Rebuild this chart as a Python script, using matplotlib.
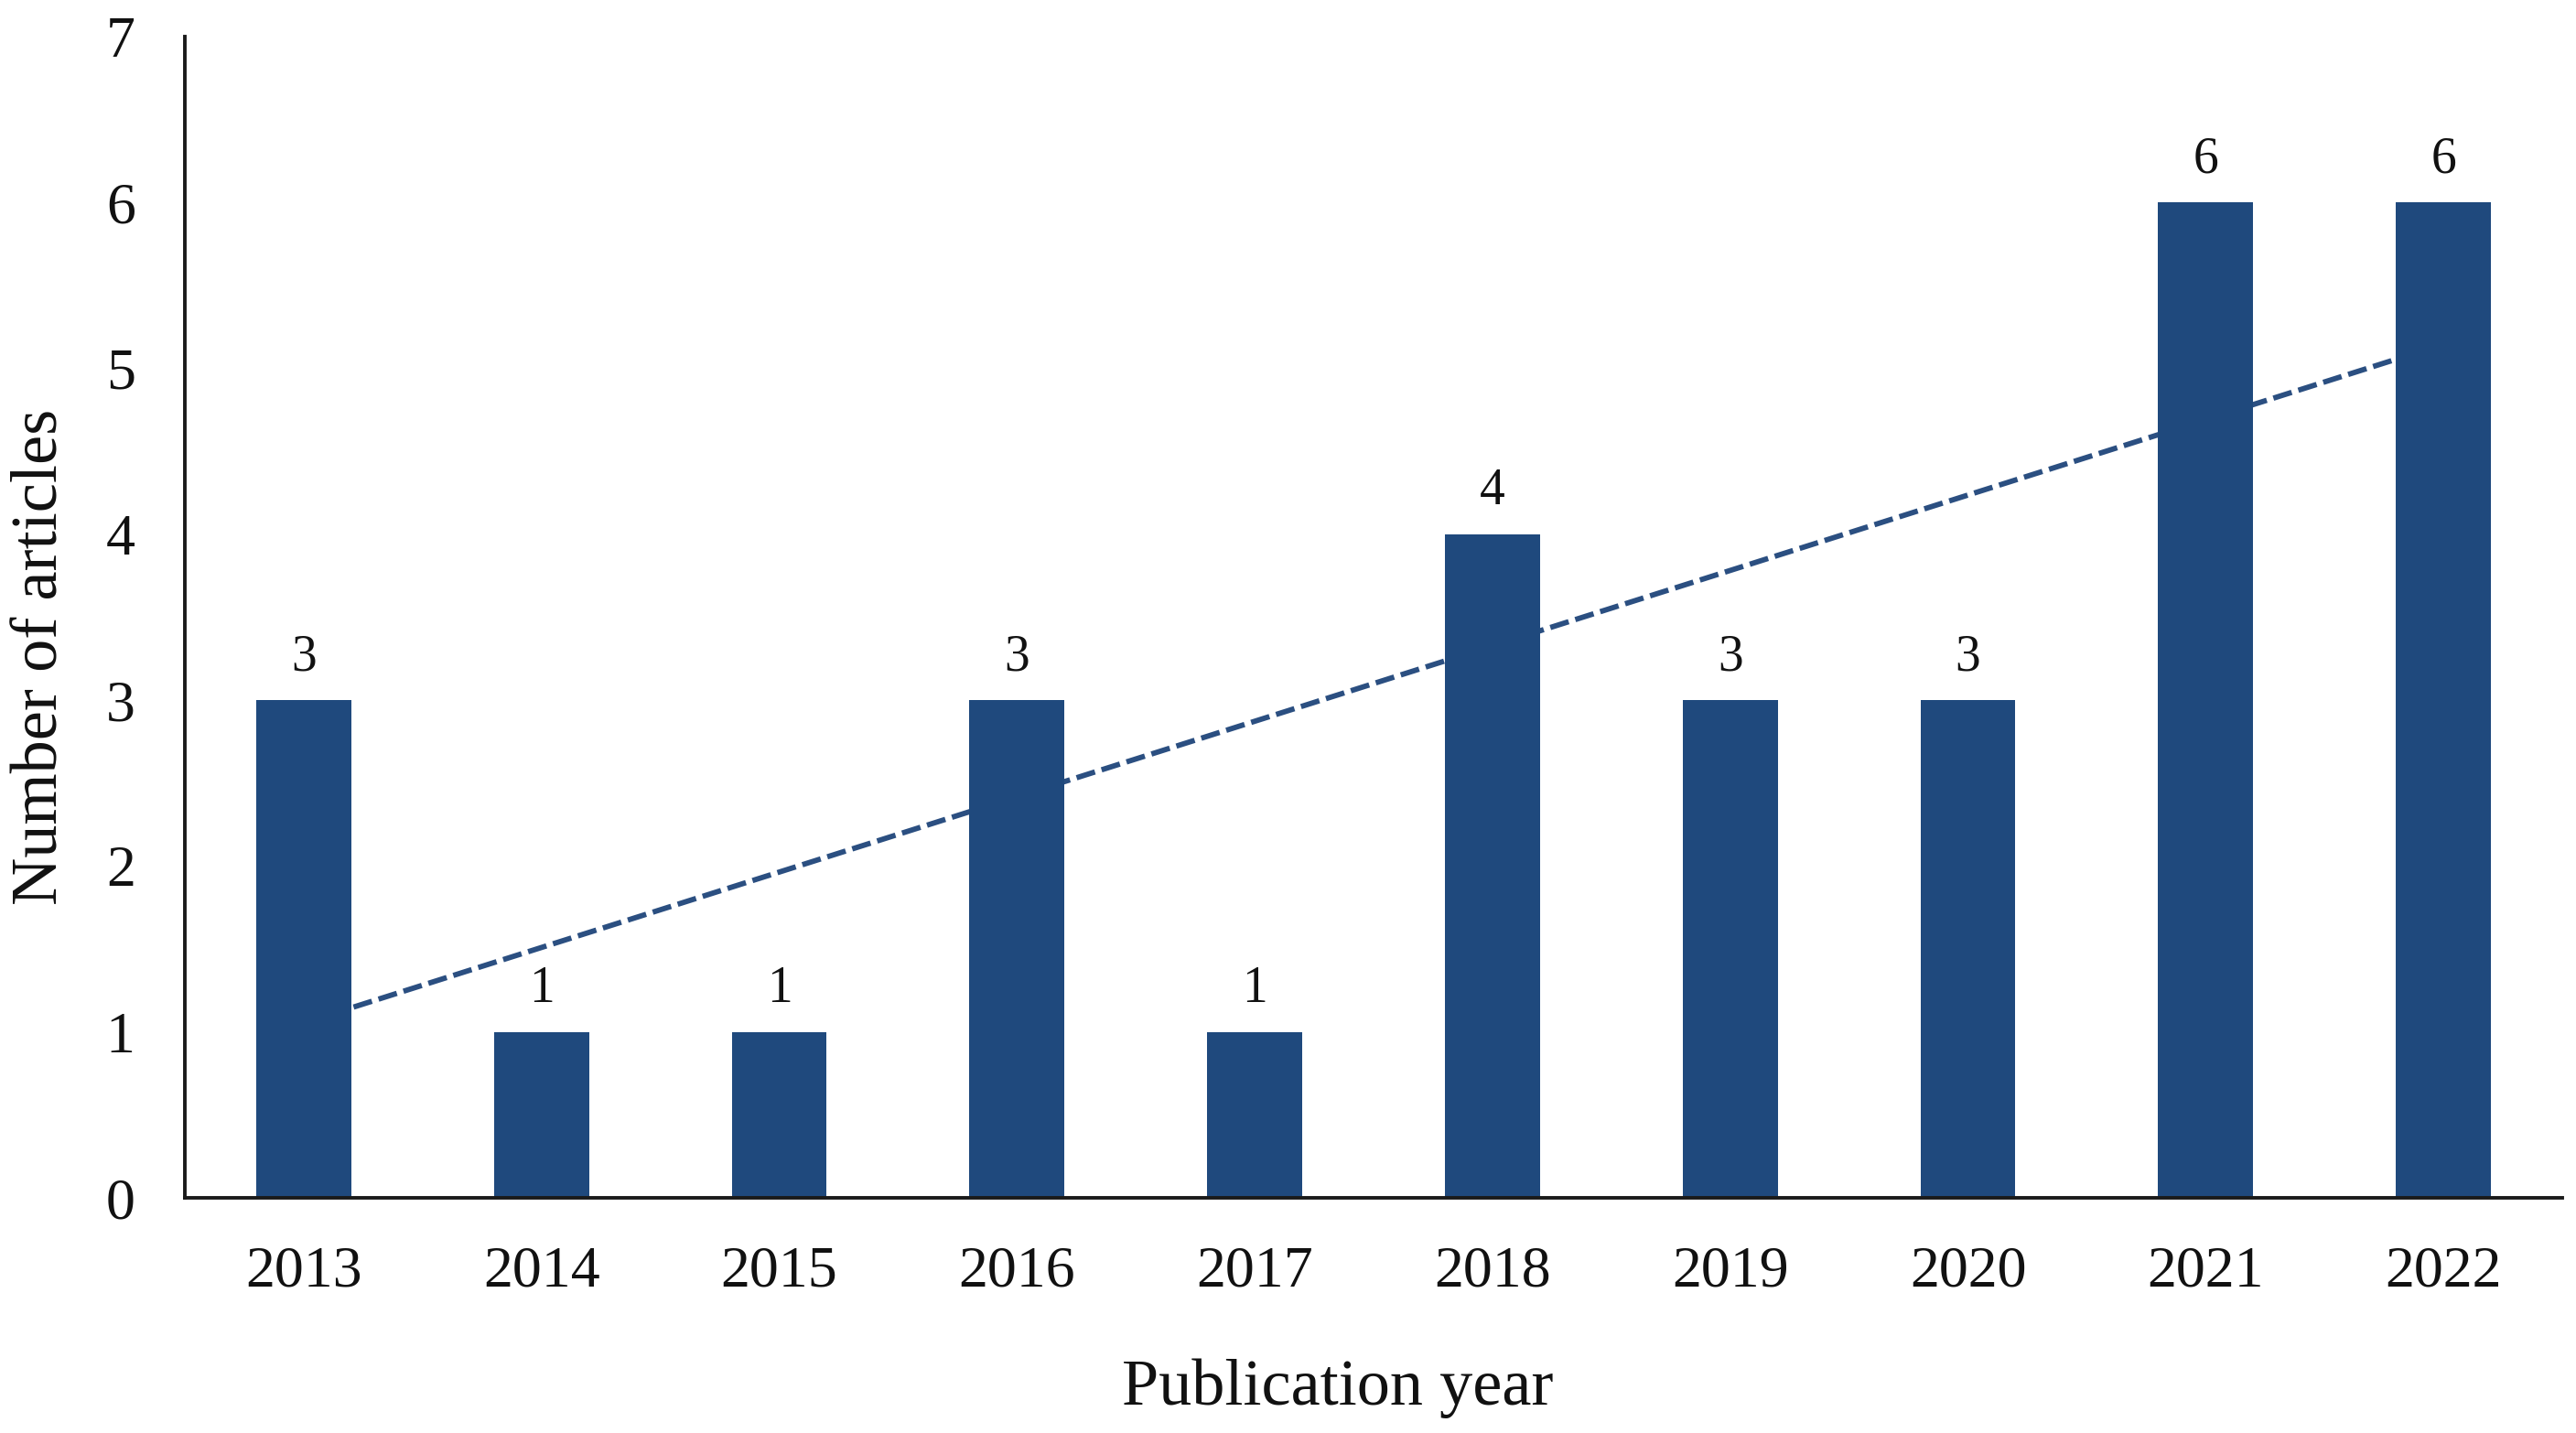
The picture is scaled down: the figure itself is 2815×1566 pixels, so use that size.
import numpy as np
import matplotlib
matplotlib.use("Agg")
import matplotlib.pyplot as plt

years = ["2013", "2014", "2015", "2016", "2017", "2018", "2019", "2020", "2021", "2022"]
articles = [3, 1, 1, 3, 1, 4, 3, 3, 6, 6]
y_ticks = [0, 1, 2, 3, 4, 5, 6, 7]

plt.rcParams['font.family'] = ['Liberation Serif', 'DejaVu Serif']

W, H, DPI = 2815, 1566, 100
fig = plt.figure(figsize=(W / DPI, H / DPI), dpi=DPI)
ax = fig.add_axes([202 / W, 1 - 1309 / H, (2800 - 202) / W, (1309 - 40) / H])

x = np.arange(len(years))
bar_color = '#1F497D'

# linear trend line (drawn behind bars)
coef = np.polyfit(x, articles, 1)
xt = np.array([x[0], x[-1]])
ax.plot(xt, np.polyval(coef, xt), color='#2B4F81', lw=4.2, ls=(0, (3.6, 1.3)), zorder=1)

bars = ax.bar(x, articles, width=0.4, color=bar_color, zorder=2)
for xi, v in zip(x, articles):
    ax.annotate(str(v), (xi, v), xytext=(0, 15), textcoords='offset points',
                ha='center', va='bottom', fontsize=40, color='#111111')

ax.set_xlim(-0.5, len(years) - 0.5)
ax.set_ylim(0, 7)
ax.set_xticks(x)
ax.set_xticklabels(years)
ax.set_yticks(y_ticks)
ax.tick_params(axis='both', length=0, labelsize=46, colors='#111111')
ax.tick_params(axis='x', pad=38)
ax.tick_params(axis='y', pad=39)

for s in ['top', 'right']:
    ax.spines[s].set_visible(False)
for s in ['left', 'bottom']:
    ax.spines[s].set_linewidth(2.8)
    ax.spines[s].set_color('#1a1a1a')

ax.set_xlabel('Publication year', fontsize=52, color='#111111', va='center')
ax.set_ylabel('Number of articles', fontsize=52, color='#111111', va='center')
ax.xaxis.set_label_coords(0.485, -0.164)
ax.yaxis.set_label_coords(-0.0604, 0.466)

fig.savefig('out.png', dpi=DPI, facecolor='white')
